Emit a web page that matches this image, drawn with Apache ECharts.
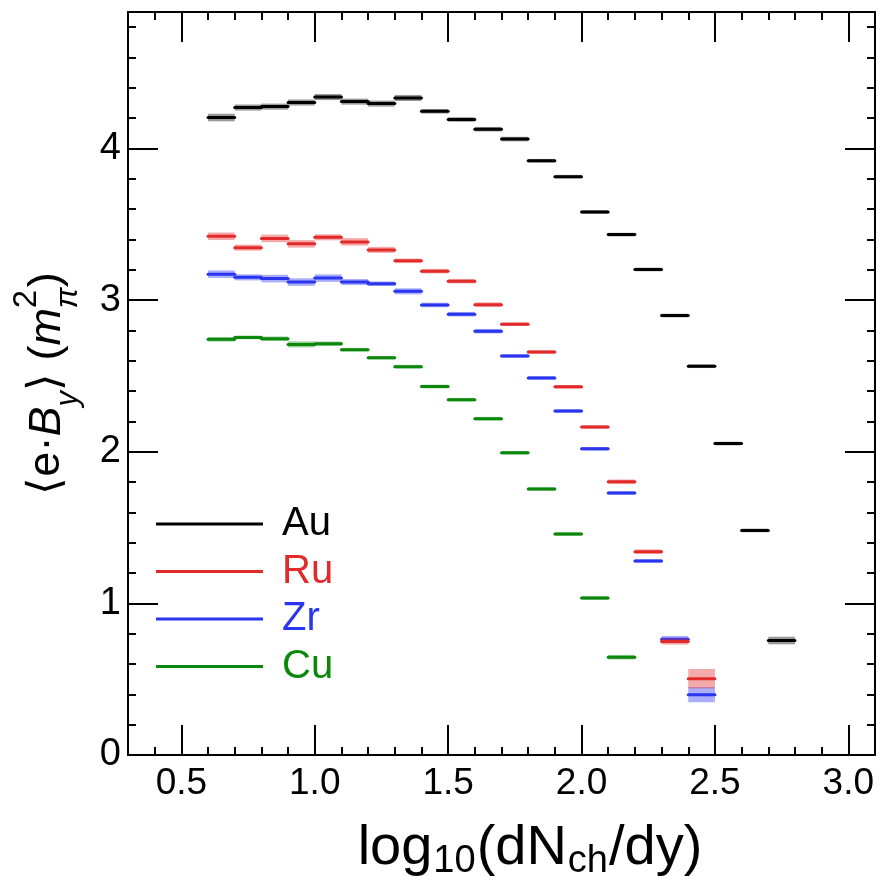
<!DOCTYPE html>
<html>
<head>
<meta charset="utf-8">
<script src="https://cdn.jsdelivr.net/npm/echarts@6/dist/echarts.min.js"></script>
<style>
html, body { margin: 0; padding: 0; background: #fff; }
#chart { width: 880px; height: 886px; }
</style>
</head>
<body>
<div id="chart"></div>
<script>
// bins in log10(dNch/dy), lower edges, width 0.1
const binLow = [0.6, 0.7, 0.8, 0.9, 1.0, 1.1, 1.2, 1.3, 1.4, 1.5, 1.6, 1.7, 1.8, 1.9, 2.0, 2.1, 2.2, 2.3, 2.4, 2.5, 2.6, 2.7]
const binWidth = 0.1

const auVal = [4.204, 4.270, 4.276, 4.303, 4.339, 4.309, 4.296, 4.333, 4.245, 4.191, 4.127, 4.062, 3.919, 3.814, 3.581, 3.432, 3.202, 2.898, 2.564, 2.054, 1.481, 0.755]
const auErr = [0.025, 0.02, 0.02, 0.02, 0.02, 0.02, 0.02, 0.02, 0.015, 0.015, 0.015, 0.015, 0.012, 0.012, 0.012, 0.012, 0.012, 0.012, 0.012, 0.012, 0.012, 0.025]

const ruVal = [3.421, 3.346, 3.407, 3.371, 3.414, 3.384, 3.331, 3.259, 3.191, 3.125, 2.970, 2.841, 2.657, 2.428, 2.163, 1.802, 1.341, 0.748, 0.503]
const ruErr = [0.025, 0.02, 0.025, 0.025, 0.02, 0.025, 0.02, 0.015, 0.015, 0.015, 0.015, 0.012, 0.012, 0.012, 0.012, 0.015, 0.015, 0.02, 0.064]

const zrVal = [3.171, 3.150, 3.142, 3.119, 3.145, 3.119, 3.108, 3.058, 2.968, 2.907, 2.795, 2.631, 2.487, 2.268, 2.019, 1.728, 1.280, 0.763, 0.398]
const zrErr = [0.025, 0.02, 0.025, 0.025, 0.025, 0.02, 0.015, 0.02, 0.015, 0.015, 0.015, 0.012, 0.012, 0.012, 0.012, 0.012, 0.012, 0.022, 0.05]

const cuVal = [2.741, 2.754, 2.745, 2.708, 2.712, 2.673, 2.620, 2.561, 2.430, 2.343, 2.218, 1.993, 1.754, 1.457, 1.035, 0.645]
const cuErr = [0.015, 0.012, 0.015, 0.02, 0.015, 0.012, 0.012, 0.012, 0.012, 0.012, 0.012, 0.012, 0.012, 0.012, 0.012, 0.015]

const xMajor = [0.5, 1.0, 1.5, 2.0, 2.5, 3.0]
const yMajor = [0, 1, 2, 3, 4]

const font = 'Liberation Sans, Arial, Helvetica, sans-serif'
const black = { color: '#000', width: 2 }

function toBins(vals, errs) {
  return vals.map((v, i) => [binLow[i], binLow[i] + binWidth, v, errs[i]])
}

function binSeries(name, vals, errs, color, band) {
  return {
    name: name,
    type: 'custom',
    xAxisIndex: 0,
    yAxisIndex: 0,
    itemStyle: { color: color },
    encode: { x: [0, 1], y: 2 },
    data: toBins(vals, errs),
    renderItem: function(params, api) {
      const x0 = api.value(0)
      const x1 = api.value(1)
      const y = api.value(2)
      const e = api.value(3)
      const a = api.coord([x0, y + e])
      const b = api.coord([x1, y - e])
      const l0 = api.coord([x0, y])
      const l1 = api.coord([x1, y])
      return {
        type: 'group',
        children: [
          { type: 'rect', shape: { x: a[0], y: a[1], width: b[0] - a[0], height: b[1] - a[1] }, style: { fill: band } },
          { type: 'line', shape: { x1: l0[0], y1: l0[1], x2: l1[0], y2: l1[1] }, style: { stroke: color, lineWidth: 3, lineCap: 'round' } }
        ]
      }
    }
  }
}

// frame axes: one carries the short ticks every step, another the long ticks
function xFrame(position, major) {
  return {
    type: 'value',
    position: position,
    min: 0.3,
    max: 3.1,
    interval: 0.1,
    axisLine: { show: !major, onZero: false, lineStyle: black },
    axisTick: major
      ? { show: true, inside: true, length: 30, customValues: xMajor, lineStyle: black }
      : { show: true, inside: true, length: 8, lineStyle: black },
    axisLabel: { show: false },
    splitLine: { show: false }
  }
}
function yFrame(position, major) {
  return {
    type: 'value',
    position: position,
    min: 0,
    max: 4.9,
    interval: 0.2,
    axisLine: { show: !major, onZero: false, lineStyle: black },
    axisTick: major
      ? { show: true, inside: true, length: 30, customValues: yMajor, lineStyle: black }
      : { show: true, inside: true, length: 8, lineStyle: black },
    axisLabel: { show: false },
    splitLine: { show: false }
  }
}

const xBottom = xFrame('bottom', false)
xBottom.axisLabel = {
  show: true, customValues: xMajor, fontSize: 37, color: '#000', fontFamily: font, margin: 10,
  formatter: v => v.toFixed(1)
}
xBottom.name = '{n|log}{s|10}{n|(dN}{s|ch}{n|/dy)}'
xBottom.nameLocation = 'middle'
xBottom.nameGap = 62
xBottom.nameTextStyle = {
  color: '#000',
  fontFamily: font,
  padding: [0, 0, 0, 57],
  rich: {
    n: { fontSize: 56, lineHeight: 64, align: 'left', verticalAlign: 'middle', fontFamily: font, color: '#000' },
    s: { fontSize: 38, lineHeight: 34, align: 'left', verticalAlign: 'bottom', padding: [0, 1, 0, 1], fontFamily: font, color: '#000' }
  }
}

const yLeft = yFrame('left', false)
yLeft.axisLabel = {
  show: true, customValues: yMajor, fontSize: 38, color: '#000', fontFamily: font, margin: 7,
  formatter: v => String(v)
}
yLeft.name = '{n|⟨e·}{i|B}{sb|y}{n|⟩ (}{i|m}{sp|2}{sb|π}{n|)}'
yLeft.nameLocation = 'middle'
yLeft.nameRotate = 90
yLeft.nameGap = 44
yLeft.nameTextStyle = {
  color: '#000',
  fontFamily: font,
  rich: {
    n: { fontSize: 45, lineHeight: 74, align: 'left', verticalAlign: 'middle', fontFamily: font, color: '#000' },
    i: { fontSize: 45, lineHeight: 74, align: 'left', verticalAlign: 'middle', fontStyle: 'italic', fontFamily: font, color: '#000' },
    sb: { fontSize: 31, lineHeight: 33, align: 'left', verticalAlign: 'bottom', fontStyle: 'italic', fontFamily: font, color: '#000' },
    sp: { fontSize: 33, lineHeight: 42, width: 0, align: 'left', verticalAlign: 'top', fontFamily: font, color: '#000' }
  }
}

const chart = echarts.init(document.getElementById('chart'))
chart.setOption({
  animation: false,
  backgroundColor: '#fff',
  textStyle: { fontFamily: font },
  grid: { left: 128, right: 5, top: 12, bottom: 127, containLabel: false },
  legend: {
    orient: 'vertical',
    left: 156,
    top: 504,
    padding: 0,
    icon: 'rect',
    itemWidth: 107,
    itemHeight: 3,
    itemGap: 7.5,
    selectedMode: false,
    textStyle: { fontSize: 40, lineHeight: 40, padding: [0, 0, 0, 14], fontFamily: font },
    data: [
      { name: 'Au', textStyle: { color: '#000000' } },
      { name: 'Ru', textStyle: { color: '#e32a2a' } },
      { name: 'Zr', textStyle: { color: '#2a35f0' } },
      { name: 'Cu', textStyle: { color: '#0b870b' } }
    ]
  },
  xAxis: [xBottom, xFrame('bottom', true), xFrame('top', false), xFrame('top', true)],
  yAxis: [yLeft, yFrame('left', true), yFrame('right', false), yFrame('right', true)],
  series: [
    binSeries('Au', auVal, auErr, '#000000', 'rgba(0,0,0,0.4)'),
    binSeries('Zr', zrVal, zrErr, '#2a35f0', 'rgba(42,53,240,0.4)'),
    binSeries('Ru', ruVal, ruErr, '#e32a2a', 'rgba(227,42,42,0.4)'),
    binSeries('Cu', cuVal, cuErr, '#0b870b', 'rgba(11,135,11,0.4)')
  ]
})
</script>
</body>
</html>
